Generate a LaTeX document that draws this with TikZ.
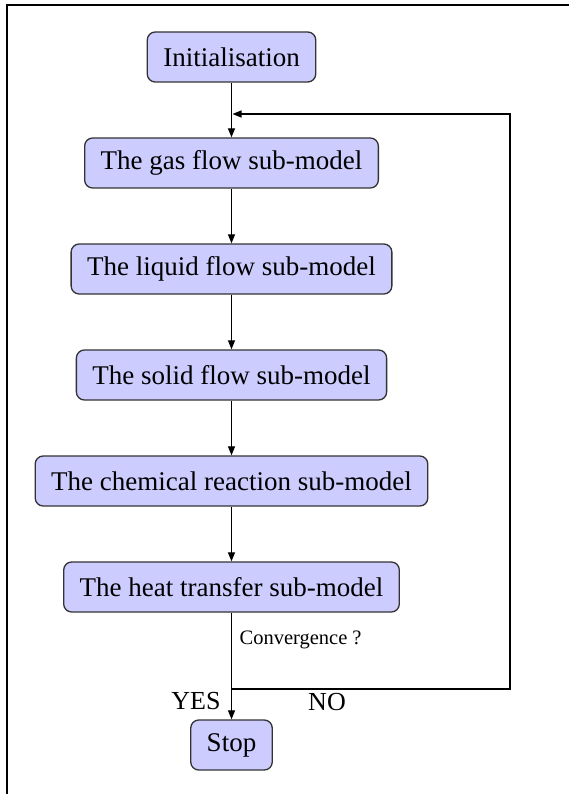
\documentclass[tikz,border=0pt]{standalone}
\usepackage{fontspec}
\setmainfont{Liberation Serif}
\usetikzlibrary{positioning,arrows.meta}

\begin{document}
\begin{tikzpicture}[x=1pt,y=-1pt,node distance=106pt,on grid,
  block/.style={draw=black!80,fill=blue!20,rounded corners=8pt,line width=1.3pt,
    minimum height=50pt,inner xsep=16pt,font=\fontsize{27}{30}\selectfont},
  answer/.style={inner sep=0pt,font=\fontsize{26}{30}\selectfont},
  >={Triangle[length=9pt,width=7pt]},line width=1.2pt]
\useasboundingbox (0,0) rectangle (569,794);
\draw[line width=2pt] (7,794) -- (7,5.5) -- (569,5.5);

\node[block] (init) at (231.5,57) {Initialisation};
\node[block] (gas) [below=of init] {The gas flow sub-model};
\node[block] (liquid) [below=of gas] {The liquid flow sub-model};
\node[block] (solid) [below=of liquid] {The solid flow sub-model};
\node[block] (chem) [below=of solid] {The chemical reaction sub-model};
\node[block] (heat) [below=of chem] {The heat transfer sub-model};
\node[block] (stop) [below=158pt of heat] {Stop};

\node[inner sep=0pt,anchor=west,font=\fontsize{20.5}{24}\selectfont] (conv) at (239,640) {Convergence ?};
\node[answer] (yes) at (196,701) {YES};
\node[answer] (no) at (327,702.5) {NO};

\coordinate (split) at (231.5,689);
\coordinate (corner) at (510,689);
\coordinate (merge) at (232.5,114);

\path[->]
(init) edge (gas)
(gas) edge (liquid)
(liquid) edge (solid)
(solid) edge (chem)
(chem) edge (heat)
(heat) edge (stop)
; %end path
\draw[->] (split) -- (corner) |- (merge);
\end{tikzpicture}
\end{document}
